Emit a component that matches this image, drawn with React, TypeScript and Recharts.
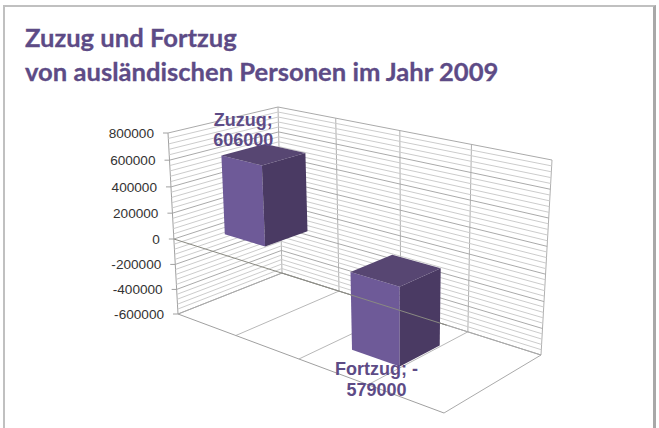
import React from "react";
import { Bar, BarChart, LabelList, ReferenceLine, XAxis, YAxis } from "recharts";

const categories = ["Zuzug", "Fortzug"];
const values = [606000, -579000];
const minorStep = 40000;
const titleLines = ["Zuzug und Fortzug", "von ausländischen Personen im Jahr 2009"];
const gridFractions = [0, 0.25, 0.5, 0.75, 1];

const W = 659;
const H = 428;
const PLOT = { left: 178, right: 558, top: 133, bottom: 314 };
const AXIS_W = 60;
const PURPLE = "#5d4b86";
const DOMAIN: [number, number] = [-600000, 800000];
const MARGIN = { left: PLOT.left - AXIS_W, right: W - PLOT.right, top: PLOT.top, bottom: H - PLOT.bottom };

const data = categories.map((name, i) => ({ name, value: values[i] }));
const allTicks: number[] = [];
for (let v = DOMAIN[1]; v >= DOMAIN[0]; v -= minorStep) allTicks.push(v);

type Pt = [number, number];

// unit square -> quad, order: (0,0) (0,1) (1,1) (1,0) in (x, z)
function homography(a: Pt, b: Pt, c: Pt, d: Pt) {
  const dx1 = d[0] - c[0], dx2 = b[0] - c[0], sx = a[0] - d[0] + c[0] - b[0];
  const dy1 = d[1] - c[1], dy2 = b[1] - c[1], sy = a[1] - d[1] + c[1] - b[1];
  const den = dx1 * dy2 - dx2 * dy1;
  const g = (sx * dy2 - dx2 * sy) / den;
  const h = (dx1 * sy - sx * dy1) / den;
  return (u: number, v: number): Pt => {
    const w = 1 + g * u + h * v;
    return [
      (a[0] + (d[0] - a[0] + g * d[0]) * u + (b[0] - a[0] + h * b[0]) * v) / w,
      (a[1] + (d[1] - a[1] + g * d[1]) * u + (b[1] - a[1] + h * b[1]) * v) / w,
    ];
  };
}

// the box of the 3d chart: floor and roof
const floor = homography([178, 314], [282, 273], [541, 355], [444, 413]);
const roof = homography([168, 133], [278, 107], [552, 160], [450, 201]);

// x, z in 0..1, py = pixel from the y axis scale
function project(x: number, py: number, z: number): Pt {
  const t = (py - PLOT.top) / (PLOT.bottom - PLOT.top);
  const s = (1.06 * t) / (1 + 0.06 * t);
  const r = roof(x, z);
  const f = floor(x, z);
  return [r[0] + (f[0] - r[0]) * s, r[1] + (f[1] - r[1]) * s];
}

const pts = (list: Pt[]) => list.map((p) => `${p[0].toFixed(1)},${p[1].toFixed(1)}`).join(" ");

function Seg({ from, to, stroke = "#c4c4c4" }: { from: Pt; to: Pt; stroke?: string }) {
  return <line x1={from[0]} y1={from[1]} x2={to[0]} y2={to[1]} stroke={stroke} strokeWidth={1} />;
}

// tick renderer: every tick is a gridline on the two walls
function WallTick(props: any) {
  const { y, payload } = props;
  const v = payload.value;
  const major = v % 200000 === 0;
  const a = project(0, y, 0);
  const b = project(0, y, 1);
  const c = project(1, y, 1);
  const stroke = major ? "#aaaaaa" : "#cccccc";
  return (
    <g>
      <Seg from={a} to={b} stroke={stroke} />
      <Seg from={b} to={c} stroke={stroke} />
      {major && <Seg from={[a[0] - 5, a[1]]} to={a} stroke="#a0a0a0" />}
      {major && (
        <text
          x={a[0] - 14}
          y={a[1]}
          dy="0.36em"
          textAnchor="end"
          fontFamily="Liberation Sans"
          fontSize={13.6}
          fill="#333333"
        >
          {v}
        </text>
      )}
    </g>
  );
}

function Walls() {
  return (
    <g>
      {gridFractions.map((f) => (
        <g key={f}>
          <Seg from={floor(f, 0)} to={floor(f, 1)} stroke={f === 0 || f === 1 ? "#aaaaaa" : "#b8b8b8"} />
          <Seg from={roof(f, 1)} to={floor(f, 1)} stroke="#b0b0b0" />
        </g>
      ))}
      <Seg from={floor(0, 0)} to={floor(1, 0)} stroke="#a0a0a0" />
      <Seg from={floor(0, 1)} to={floor(1, 1)} stroke="#a0a0a0" />
      <Seg from={roof(0, 0)} to={floor(0, 0)} stroke="#a0a0a0" />
    </g>
  );
}

const Z0 = 0.28;
const Z1 = 0.68;
const BAR_SHIFT = -0.08;

const toX = (px: number) => (px - PLOT.left) / (PLOT.right - PLOT.left) + BAR_SHIFT;

function Bar3D(props: any) {
  const { x, y, width, height } = props;
  const x0 = toX(x);
  const x1 = toX(x + width);
  const top = Math.min(y, y + height);
  const bot = Math.max(y, y + height);
  return (
    <g>
      <polygon points={pts([project(x0, top, Z0), project(x1, top, Z0), project(x1, bot, Z0), project(x0, bot, Z0)])} fill="#6e5a98" />
      <polygon points={pts([project(x1, top, Z0), project(x1, top, Z1), project(x1, bot, Z1), project(x1, bot, Z0)])} fill="#4a3a63" />
      <polygon points={pts([project(x0, top, Z0), project(x0, top, Z1), project(x1, top, Z1), project(x1, top, Z0)])} fill="#574672" />
    </g>
  );
}

function DataLabel(props: any) {
  const { x, y, width, height, index } = props;
  const positive = values[index] >= 0;
  const edge = positive ? Math.min(y, y + height) : Math.max(y, y + height);
  const p = project(toX(x + width / 2), edge, Z0);
  const lines = positive
    ? [`${categories[index]};`, `${values[index]}`]
    : [`${categories[index]}; -`, `${Math.abs(values[index])}`];
  const baseY = positive ? p[1] - 34.5 : p[1] + 17;
  return (
    <g>
      {lines.map((l, i) => (
        <text
          key={l}
          x={p[0] + (positive ? 2 : 1)}
          y={baseY + i * 20.5}
          textAnchor="middle"
          fontFamily="Liberation Sans"
          fontWeight="bold"
          fontSize={18}
          fill={PURPLE}
        >
          {l}
        </text>
      ))}
    </g>
  );
}

function ZeroLine(props: any) {
  const from = project(0, props.y1 ?? props.y ?? 0, 0);
  const to = project(1, props.y1 ?? props.y ?? 0, 0);
  return <Seg from={from} to={to} stroke="#8a8a82" />;
}

export default function App() {
  return (
    <div style={{ position: "absolute", left: 0, top: 0, width: W, height: H, overflow: "hidden", background: "#fff" }}>
      <div
        style={{
          position: "absolute",
          left: 3,
          top: 5,
          width: W - 6,
          height: H,
          border: "2px solid #c0c0c0",
          borderRight: "3px solid #a8a8a8",
          boxSizing: "border-box",
        }}
      />
      {titleLines.map((t, i) => (
        <div
          key={t}
          style={{
            position: "absolute",
            left: 25,
            top: 20 + i * 33.5,
            fontFamily: "Lato",
            fontWeight: 700,
            fontSize: 25.6,
            lineHeight: "34px",
            color: PURPLE,
            whiteSpace: "nowrap",
            WebkitTextStroke: "0.3px " + PURPLE,
          }}
        >
          {t}
        </div>
      ))}
      {/* walls go in a chart of their own, axis ticks would paint over the bars otherwise */}
      <div style={{ position: "absolute", left: 0, top: 0 }}>
        <BarChart width={W} height={H} data={data} margin={MARGIN}>
          <Walls />
          <XAxis dataKey="name" hide />
          <YAxis
            width={AXIS_W}
            domain={DOMAIN}
            ticks={allTicks}
            interval={0}
            axisLine={false}
            tickLine={false}
            tick={<WallTick />}
          />
          <Bar dataKey="value" isAnimationActive={false} fill="none" shape={() => <g />} />
        </BarChart>
      </div>
      <div style={{ position: "absolute", left: 0, top: 0 }}>
        <BarChart width={W} height={H} data={data} barCategoryGap="33%" margin={MARGIN}>
          <XAxis dataKey="name" hide />
          <YAxis width={AXIS_W} domain={DOMAIN} ticks={allTicks} axisLine={false} tickLine={false} tick={false} />
          <Bar dataKey="value" isAnimationActive={false} shape={<Bar3D />}>
            <LabelList dataKey="value" content={<DataLabel />} />
          </Bar>
          <ReferenceLine y={0} ifOverflow="visible" shape={<ZeroLine />} />
        </BarChart>
      </div>
    </div>
  );
}
